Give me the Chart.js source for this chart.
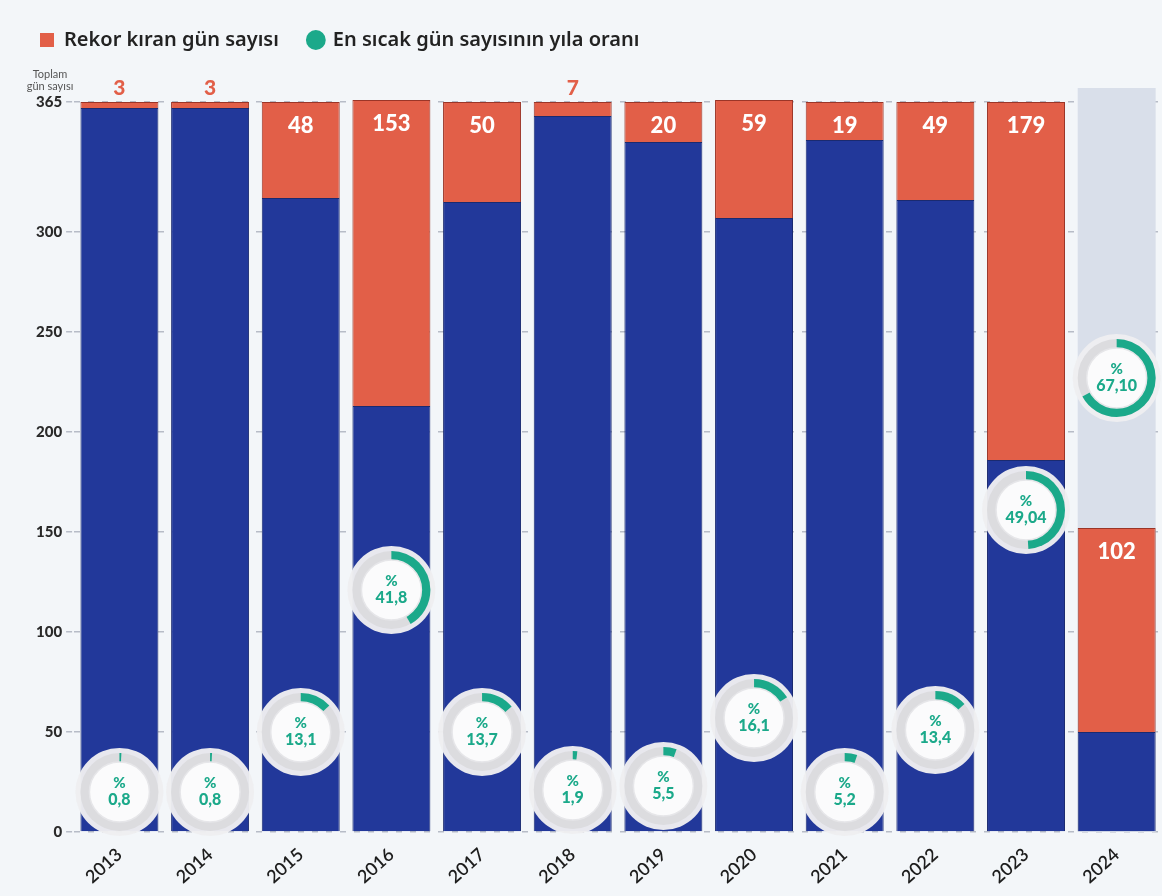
<!DOCTYPE html>
<html>
<head>
<meta charset="utf-8">
<script src="https://cdn.jsdelivr.net/npm/chart.js@4"></script>
<style>
  html, body { margin: 0; padding: 0; background: #f3f6f9; overflow: hidden; }
  #wrap { width: 1162px; height: 896px; }
</style>
</head>
<body>
<div id="wrap"><canvas id="myChart"></canvas></div>
<script>
// Veriler
var years = ['2013', '2014', '2015', '2016', '2017', '2018', '2019', '2020', '2021', '2022', '2023', '2024'];
var normalDays = [362, 362, 317, 213, 315, 358, 345, 307, 346, 316, 186, 50];
var recordDays = [3, 3, 48, 153, 50, 7, 20, 59, 19, 49, 179, 102];
var ratioLabels = ['0,8', '0,8', '13,1', '41,8', '13,7', '1,9', '5,5', '16,1', '5,2', '13,4', '49,04', '67,10'];
var yTicks = [0, 50, 100, 150, 200, 250, 300, 365];

// where each ring sits on the y scale (layout only)
var ringAt = [20, 20, 50, 121, 50, 21, 23, 57, 20, 51, 161, 227];
var partialIndex = 11;

var BLUE = '#22389a', RED = '#e25f48', GREEN = '#1ba98a';
var FONT = 'Lato, "Noto Sans", sans-serif';

// more room under the legend
var legendGap = {
    id: 'legendGap',
    beforeInit(chart) {
        var fit = chart.legend.fit;
        chart.legend.fit = function () {
            fit.bind(chart.legend)();
            this.height += 24;
        };
    }
};

// grey column behind the unfinished year
var bandPlugin = {
    id: 'band',
    beforeDatasetsDraw(chart) {
        var ctx = chart.ctx, y = chart.scales.y;
        var bar = chart.getDatasetMeta(0).data[partialIndex];
        var w = bar.width;
        ctx.save();
        ctx.fillStyle = '#d9dfea';
        ctx.fillRect(bar.x - w / 2, y.getPixelForValue(372), w, y.getPixelForValue(0) - y.getPixelForValue(372));
        ctx.restore();
    }
};

// value labels, rings and the y title
var overlayPlugin = {
    id: 'overlay',
    afterDatasetsDraw(chart) {
        var ctx = chart.ctx, y = chart.scales.y;
        var reds = chart.getDatasetMeta(1).data;
        ctx.save();
        ctx.textAlign = 'center';
        reds.forEach(function (bar, i) {
            var v = recordDays[i];
            if (v < 10) {
                ctx.fillStyle = RED;
                ctx.font = '900 21px ' + FONT;
                ctx.textBaseline = 'bottom';
                ctx.fillText(v, bar.x, bar.y - 3);
            } else {
                ctx.fillStyle = '#fff';
                ctx.font = '900 22px ' + FONT;
                ctx.textBaseline = 'middle';
                ctx.fillText(v, bar.x, bar.y + 24);
            }
        });

        reds.forEach(function (bar, i) {
            var cx = bar.x, cy = y.getPixelForValue(ringAt[i]);
            var frac = parseFloat(ratioLabels[i].replace(',', '.')) / 100;
            // halo
            ctx.beginPath();
            ctx.arc(cx, cy, 44, 0, Math.PI * 2);
            ctx.fillStyle = 'rgba(238,238,241,0.97)';
            ctx.fill();
            // grey ring
            ctx.beginPath();
            ctx.arc(cx, cy, 39, 0, Math.PI * 2);
            ctx.fillStyle = '#dcdcdf';
            ctx.fill();
            // green part
            ctx.beginPath();
            ctx.moveTo(cx, cy);
            ctx.arc(cx, cy, 39, -Math.PI / 2, -Math.PI / 2 + Math.PI * 2 * frac);
            ctx.closePath();
            ctx.fillStyle = GREEN;
            ctx.fill();
            // centre
            ctx.beginPath();
            ctx.arc(cx, cy, 30, 0, Math.PI * 2);
            ctx.fillStyle = '#fbfbfc';
            ctx.fill();
            ctx.strokeStyle = '#e6e6e9';
            ctx.lineWidth = 1.5;
            ctx.stroke();

            ctx.fillStyle = GREEN;
            ctx.textBaseline = 'middle';
            ctx.font = '900 15px ' + FONT;
            ctx.fillText('%', cx, cy - 9);
            ctx.font = '900 16px ' + FONT;
            ctx.fillText(ratioLabels[i], cx, cy + 8);
        });

        ctx.fillStyle = '#555';
        ctx.font = '11px ' + FONT;
        ctx.textAlign = 'center';
        ctx.textBaseline = 'alphabetic';
        ctx.fillText('Toplam', 50, 78);
        ctx.fillText('gün sayısı', 50, 90);
        ctx.restore();
    }
};

var ctx = document.getElementById('myChart').getContext('2d');

var myChart = new Chart(ctx, {
    type: 'bar',
    data: {
        labels: years,
        datasets: [
            {
                label: 'Normal',
                data: normalDays,
                backgroundColor: BLUE,
                borderColor: '#1a2a70',
                borderWidth: 1,
                barPercentage: 0.86,
                categoryPercentage: 1
            },
            {
                label: 'Rekor kıran gün sayısı',
                data: recordDays,
                backgroundColor: RED,
                borderColor: '#9b3527',
                borderWidth: 1,
                barPercentage: 0.86,
                categoryPercentage: 1
            }
        ]
    },
    options: {
        responsive: true,
        maintainAspectRatio: false,
        animation: false,
        layout: { padding: { top: 0, left: 10, right: 0, bottom: 4 } },
        plugins: {
            tooltip: { enabled: false },
            legend: {
                position: 'top',
                align: 'start',
                labels: {
                    usePointStyle: true,
                    boxWidth: 14,
                    boxHeight: 14,
                    padding: 30,
                    color: '#222',
                    font: { family: '"Noto Sans", sans-serif', size: 20, weight: '600' },
                    generateLabels: function () {
                        return [
                            { text: 'Rekor kıran gün sayısı', fillStyle: RED, strokeStyle: RED, lineWidth: 0, pointStyle: 'rect', fontColor: '#222' },
                            { text: 'En sıcak gün sayısının yıla oranı', fillStyle: GREEN, strokeStyle: GREEN, lineWidth: 0, pointStyle: 'circle', fontColor: '#222' }
                        ];
                    }
                }
            }
        },
        scales: {
            x: {
                stacked: true,
                grid: { display: false },
                border: { display: false },
                ticks: {
                    color: '#1d1d1d',
                    font: { family: FONT, size: 18, weight: '600' },
                    maxRotation: 42,
                    minRotation: 42,
                    padding: 4
                }
            },
            y: {
                stacked: true,
                min: 0,
                max: 374,
                afterBuildTicks: function (axis) {
                    axis.ticks = yTicks.map(function (v) { return { value: v }; });
                },
                afterFit: function (axis) {
                    axis.width += 22;
                },
                border: { display: false, dash: [6, 8] },
                grid: {
                    color: '#b7bcc7',
                    lineWidth: 1.5,
                    drawTicks: true,
                    tickLength: 8,
                    tickBorderDash: [6, 8]
                },
                ticks: {
                    color: '#2a2a2a',
                    padding: 4,
                    font: { family: FONT, size: 15, weight: '900' }
                }
            }
        }
    },
    plugins: [legendGap, bandPlugin, overlayPlugin]
});
</script>
</body>
</html>
